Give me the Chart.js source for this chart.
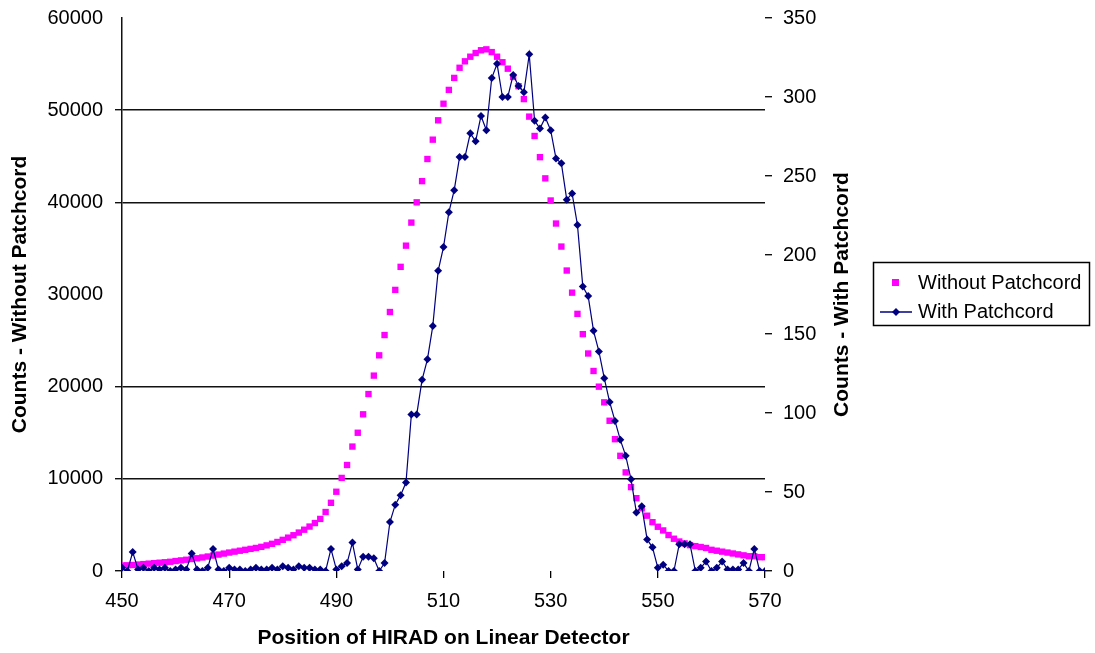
<!DOCTYPE html>
<html>
<head>
<meta charset="utf-8">
<title>Position of HIRAD on Linear Detector</title>
<script src="https://cdn.jsdelivr.net/npm/chart.js@4.4.1/dist/chart.umd.min.js"></script>
<style>
  body { margin: 0; background: #fff; }
  #wrap { width: 1095px; height: 653px; }
</style>
</head>
<body>
<div id="wrap"><canvas id="myChart" width="1095" height="653"></canvas></div>
<script>
// position on the detector (x)
const positions = [
  450, 451, 452, 453, 454, 455, 456, 457, 458, 459,
  460, 461, 462, 463, 464, 465, 466, 467, 468, 469,
  470, 471, 472, 473, 474, 475, 476, 477, 478, 479,
  480, 481, 482, 483, 484, 485, 486, 487, 488, 489,
  490, 491, 492, 493, 494, 495, 496, 497, 498, 499,
  500, 501, 502, 503, 504, 505, 506, 507, 508, 509,
  510, 511, 512, 513, 514, 515, 516, 517, 518, 519,
  520, 521, 522, 523, 524, 525, 526, 527, 528, 529,
  530, 531, 532, 533, 534, 535, 536, 537, 538, 539,
  540, 541, 542, 543, 544, 545, 546, 547, 548, 549,
  550, 551, 552, 553, 554, 555, 556, 557, 558, 559,
  560, 561, 562, 563, 564, 565, 566, 567, 568, 569,
  570
];

// left axis
const withoutPatchcord = [
  600, 620, 650, 700, 750, 800, 850, 900, 950, 1000,
  1080, 1150, 1220, 1300, 1380, 1470, 1570, 1670, 1780, 1890,
  2000, 2100, 2200, 2300, 2400, 2500, 2620, 2780, 2950, 3150,
  3380, 3620, 3880, 4170, 4480, 4820, 5200, 5650, 6400, 7400,
  8600, 10100, 11500, 13500, 15000, 17000, 19200, 21200, 23400, 25600,
  28100, 30500, 33000, 35300, 37800, 40000, 42300, 44700, 46800, 48900,
  50700, 52200, 53500, 54600, 55300, 55800, 56200, 56500, 56600, 56300,
  55800, 55200, 54500, 53600, 52600, 51200, 49300, 47200, 44900, 42600,
  40200, 37700, 35200, 32600, 30200, 27900, 25700, 23600, 21700, 20000,
  18300, 16300, 14300, 12500, 10700, 9100, 7900, 6800, 6000, 5300,
  4800, 4400, 3900, 3500, 3200, 3000, 2800, 2700, 2600, 2500,
  2300, 2200, 2100, 2000, 1900, 1800, 1700, 1600, 1600, 1500,
  1500
];

// right axis
const withPatchcord = [
  2, 0, 12, 1, 2, 0, 2, 1, 2, 0,
  1, 2, 1, 11, 1, 0, 2, 14, 1, 0,
  2, 1, 1, 0, 1, 2, 1, 1, 2, 1,
  3, 2, 1, 3, 2, 2, 1, 1, 0, 14,
  1, 3, 5, 18, 1, 9, 9, 8, 0, 5,
  31, 42, 48, 56, 99, 99, 121, 134, 155, 190,
  205, 227, 241, 262, 262, 277, 272, 288, 279, 312,
  321, 300, 300, 314, 307, 303, 327, 285, 280, 287,
  279, 261, 258, 235, 239, 219, 180, 174, 152, 139,
  122, 107, 95, 83, 73, 58, 37, 41, 20, 15,
  2, 4, 0, 0, 17, 17, 17, 0, 2, 6,
  0, 2, 6, 1, 1, 1, 5, 0, 14, 0,
  0
];

const xTicks = [450, 470, 490, 510, 530, 550, 570];
const leftTicks = [0, 10000, 20000, 30000, 40000, 50000, 60000];
const rightTicks = [0, 50, 100, 150, 200, 250, 300, 350];

const MAGENTA = '#ff00ff';
const NAVY = '#000080';
const noGrid = [0, 30000, 60000]; // lines the original doesn't show

Chart.defaults.font.family = "'Liberation Sans', Arial, sans-serif";
Chart.defaults.font.size = 20;
Chart.defaults.color = '#000';

// right title reads bottom-to-top like the left one
const rightTitle = {
  id: 'rightTitle',
  afterDraw(chart) {
    const c = chart.ctx, a = chart.chartArea;
    c.save();
    c.translate(a.right + 77, (a.top + a.bottom) / 2);
    c.rotate(-Math.PI / 2);
    c.font = "bold 21px 'Liberation Sans', Arial, sans-serif";
    c.fillStyle = '#000';
    c.textAlign = 'center';
    c.textBaseline = 'middle';
    c.fillText('Counts - With Patchcord', 0, 0);
    c.restore();
  }
};

// excel style legend box
const legendBox = {
  id: 'legendBox',
  afterDraw(chart) {
    const c = chart.ctx, a = chart.chartArea;
    const left = a.right + 108, top = 262;
    const ds = chart.data.datasets;
    c.save();
    c.strokeStyle = '#000';
    c.lineWidth = 1.5;
    c.strokeRect(left + 0.5, top + 0.5, 216, 63);

    c.font = "20px 'Liberation Sans', Arial, sans-serif";
    c.textBaseline = 'middle';

    // Without Patchcord
    c.fillStyle = ds[1].backgroundColor;
    c.fillRect(left + 19, top + 17, 7, 7);
    c.fillStyle = '#000';
    c.fillText(ds[1].label, left + 45, top + 21);

    // With Patchcord
    const y2 = top + 50;
    c.strokeStyle = ds[0].borderColor;
    c.lineWidth = 1.5;
    c.beginPath();
    c.moveTo(left + 7, y2);
    c.lineTo(left + 39, y2);
    c.stroke();
    c.fillStyle = ds[0].borderColor;
    c.beginPath();
    c.moveTo(left + 23, y2 - 4);
    c.lineTo(left + 27, y2);
    c.lineTo(left + 23, y2 + 4);
    c.lineTo(left + 19, y2);
    c.closePath();
    c.fill();
    c.fillStyle = '#000';
    c.fillText(ds[0].label, left + 45, y2);
    c.restore();
  }
};

const ctx = document.getElementById('myChart').getContext('2d');

const chart = new Chart(ctx, {
  type: 'line',
  data: {
    datasets: [
      {
        label: 'With Patchcord',
        data: positions.map((x, i) => ({ x: x, y: withPatchcord[i] })),
        yAxisID: 'y1',
        borderColor: NAVY,
        backgroundColor: NAVY,
        borderWidth: 1.2,
        pointStyle: 'rectRot',
        pointRadius: 4,
        pointBorderWidth: 0,
        order: 1
      },
      {
        label: 'Without Patchcord',
        data: positions.map((x, i) => ({ x: x, y: withoutPatchcord[i] })),
        yAxisID: 'y',
        showLine: false,
        borderColor: MAGENTA,
        backgroundColor: MAGENTA,
        pointStyle: 'rect',
        pointRadius: 4.5,
        pointBorderWidth: 0,
        order: 2
      }
    ]
  },
  options: {
    responsive: false,
    animation: false,
    layout: { padding: { left: 6, top: 18, right: 230, bottom: 0 } },
    plugins: {
      legend: { display: false },
      tooltip: { enabled: false }
    },
    scales: {
      x: {
        type: 'linear',
        min: 450,
        max: 570,
        afterBuildTicks: s => { s.ticks = xTicks.map(v => ({ value: v })); },
        afterFit: s => { s.height = 82; },
        grid: { drawOnChartArea: false, tickLength: 7, color: '#000', lineWidth: 1.3 },
        border: { display: false },
        ticks: { padding: 11, maxRotation: 0, callback: v => v },
        title: {
          display: true,
          text: 'Position of HIRAD on Linear Detector',
          font: { size: 21, weight: 'bold' },
          padding: { top: 0, bottom: 2 }
        }
      },
      y: {
        position: 'left',
        min: 0,
        max: 60000,
        afterBuildTicks: s => { s.ticks = leftTicks.map(v => ({ value: v })); },
        afterFit: s => { s.width = 116; s.paddingTop = 10; },
        grid: {
          tickLength: 7,
          lineWidth: 1.4,
          color: c => (c.tick && noGrid.includes(c.tick.value)) ? 'rgba(0,0,0,0)' : '#111',
          tickColor: c => (c.tick && (c.tick.value === 30000 || c.tick.value === 60000)) ? 'rgba(0,0,0,0)' : '#111'
        },
        border: { display: true, color: '#111', width: 1.5 },
        ticks: { padding: 12, callback: v => v },
        title: {
          display: true,
          text: 'Counts - Without Patchcord',
          font: { size: 21, weight: 'bold' },
          padding: { top: 2, bottom: 0 }
        }
      },
      y1: {
        position: 'right',
        min: 0,
        max: 350,
        afterBuildTicks: s => { s.ticks = rightTicks.map(v => ({ value: v })); },
        afterFit: s => { s.width = 100; s.paddingTop = 10; },
        grid: { drawOnChartArea: false, tickLength: 7, color: '#111', lineWidth: 1.4 },
        border: { display: false },
        ticks: { padding: 11, callback: v => v }
      }
    }
  },
  plugins: [rightTitle, legendBox]
});
</script>
</body>
</html>
